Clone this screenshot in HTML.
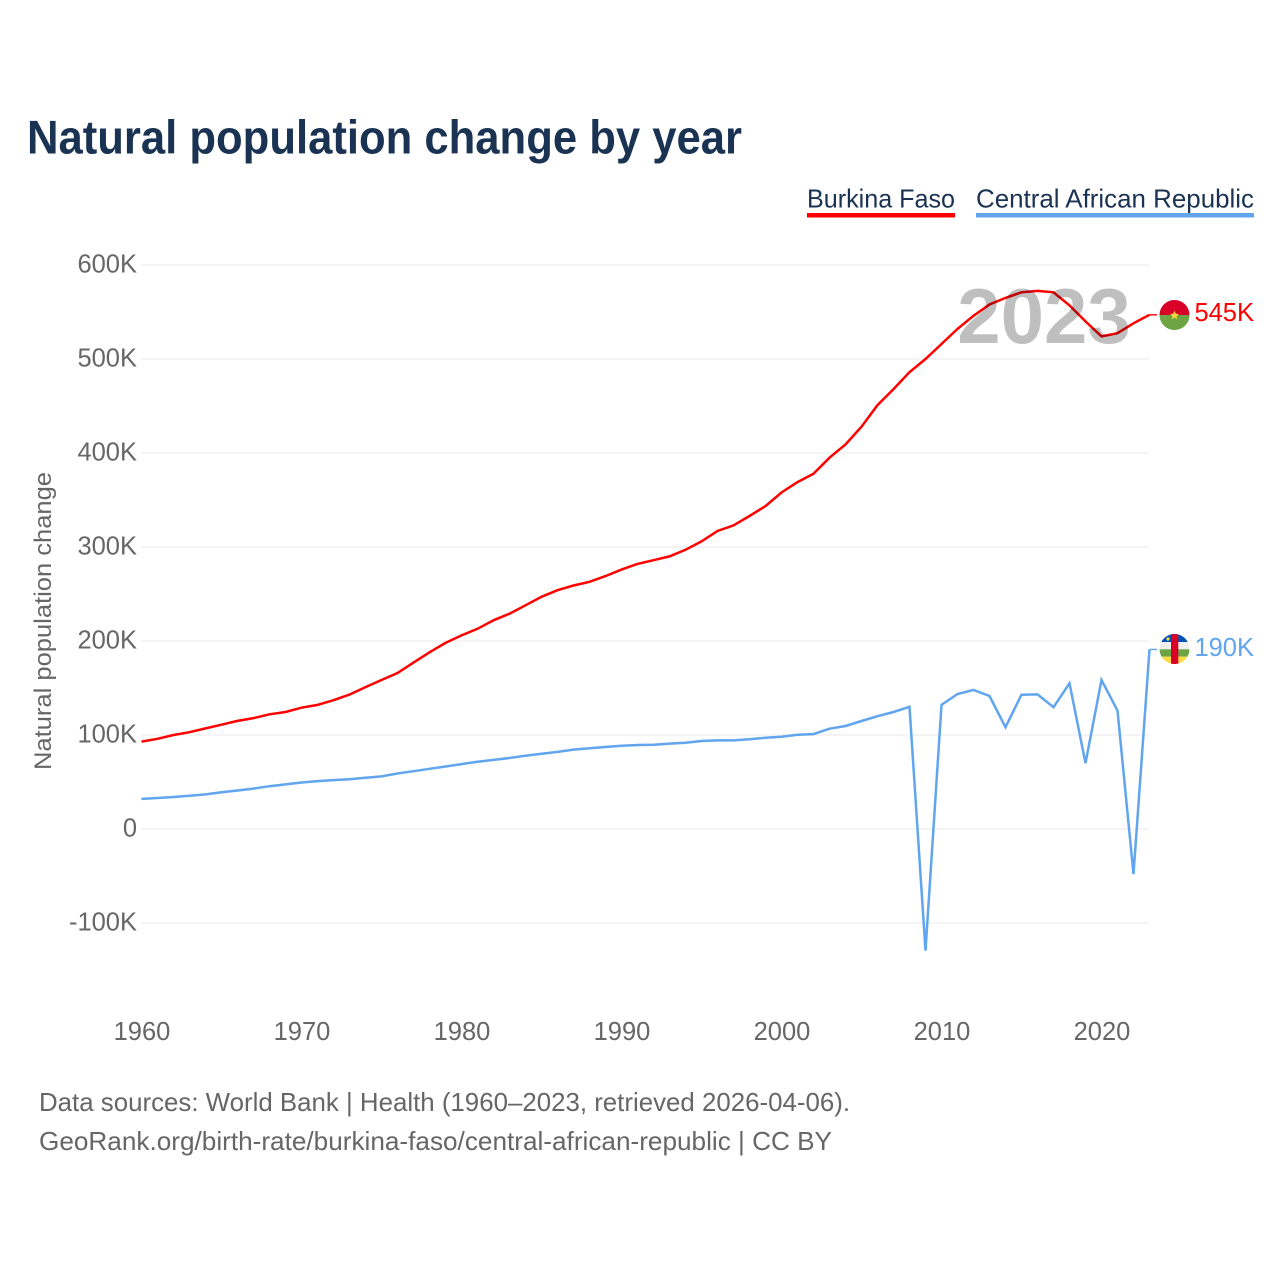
<!DOCTYPE html>
<html lang="en">
<head>
<meta charset="utf-8">
<title>Natural population change by year</title>
<style>
html,body{margin:0;padding:0;background:#fff;width:1280px;height:1280px;overflow:hidden}
svg{display:block}
text{font-family:"Liberation Sans",sans-serif}
</style>
</head>
<body>
<svg id="chart" xmlns="http://www.w3.org/2000/svg" width="1280" height="1280" viewBox="0 0 1280 1280">
  <rect x="0" y="0" width="1280" height="1280" fill="#ffffff"/>
  <text x="27" y="153.5" font-size="47" font-weight="700" fill="#1a3352" textLength="715" lengthAdjust="spacingAndGlyphs">Natural population change by year</text>

  <g>
    <text x="807" y="207.5" font-size="26" fill="#1a3352" textLength="148" lengthAdjust="spacingAndGlyphs">Burkina Faso</text>
    <rect x="807" y="213" width="148" height="4.5" fill="#ff0000"/>
  </g>
  <g>
    <text x="976" y="207.5" font-size="26" fill="#1a3352" textLength="278" lengthAdjust="spacingAndGlyphs">Central African Republic</text>
    <rect x="976" y="213" width="278" height="4.5" fill="#60a5ee"/>
  </g>

  <g id="grid"></g>
  <g id="yticks"></g>
  <g id="xticks"></g>
  <g id="series"></g>

  <text x="1044" y="343" text-anchor="middle" font-size="78" font-weight="700" fill="#000000" fill-opacity="0.25">2023</text>

  <text transform="translate(51,621) rotate(-90)" text-anchor="middle" font-size="24.5" fill="#666666" textLength="298" lengthAdjust="spacingAndGlyphs">Natural population change</text>

  <defs>
    <clipPath id="clip-bf"><circle cx="1174.5" cy="315" r="15"/></clipPath>
    <clipPath id="clip-car"><circle cx="1174.5" cy="649" r="15"/></clipPath>
  </defs>
  <g clip-path="url(#clip-bf)">
    <rect x="1159" y="300" width="31" height="15" fill="#d80027"/>
    <rect x="1159" y="315" width="31" height="15" fill="#6da544"/>
    <polygon points="1174.5,310.5 1175.8,313.8 1179,314 1176.5,316 1177.3,319.2 1174.5,317.4 1171.7,319.2 1172.5,316 1170,314 1173.2,313.8" fill="#ffda44"/>
  </g>
  <g clip-path="url(#clip-car)">
    <rect x="1159" y="634" width="31" height="8" fill="#0052b4"/>
    <rect x="1159" y="642" width="31" height="7.3" fill="#f0f0f0"/>
    <rect x="1159" y="649.3" width="31" height="7.4" fill="#6da544"/>
    <rect x="1159" y="656.7" width="31" height="8.3" fill="#ffda44"/>
    <rect x="1171" y="634" width="7.3" height="31" fill="#d80027"/>
    <circle cx="1168" cy="639" r="1.6" fill="#ffda44"/>
  </g>
  <text id="label-bf" x="1254" y="321" text-anchor="end" font-size="25.5" fill="#ff0000"></text>
  <text id="label-car" x="1254" y="656" text-anchor="end" font-size="25.5" fill="#60a5ee"></text>

  <text x="39" y="1111" font-size="26" fill="#666666" textLength="811" lengthAdjust="spacingAndGlyphs">Data sources: World Bank | Health (1960–2023, retrieved 2026-04-06).</text>
  <text x="39" y="1150" font-size="26" fill="#666666" textLength="793" lengthAdjust="spacingAndGlyphs">GeoRank.org/birth-rate/burkina-faso/central-african-republic | CC BY</text>
</svg>
<script>
const years = [1960,1961,1962,1963,1964,1965,1966,1967,1968,1969,1970,1971,1972,1973,1974,1975,1976,1977,1978,1979,1980,1981,1982,1983,1984,1985,1986,1987,1988,1989,1990,1991,1992,1993,1994,1995,1996,1997,1998,1999,2000,2001,2002,2003,2004,2005,2006,2007,2008,2009,2010,2011,2012,2013,2014,2015,2016,2017,2018,2019,2020,2021,2022,2023];
const burkinaFaso = [93,96,100,103,107,111,115,118,122,124.5,129,132,137,143,151,158.5,166,177,188,198,206,213,222,229,238,247,254,259,263,269,276,282,286,290,297,306,317,323,333,343.5,358,369,378,395,409,428,451,468,486,500,516,532,546,558,565,571,572.5,571,557,540,524,527.5,538,547];
const centralAfricanRepublic = [32,33,34,35.3,36.8,39,41,43,45.5,47.5,49.5,51,52,53,54.5,56,59,61.5,64,66.5,69,71.5,73.5,75.5,78,80,82,84.5,85.8,87.2,88.6,89.4,89.7,90.8,91.8,93.6,94.3,94.3,95.4,97,98.2,100.3,101,106.7,109.6,114.9,120,124.5,130,-129.5,132,143.6,148,141.5,108.3,142.9,143.2,129.6,155,70,158.5,126,-48,191];
const yTickValues = [-100,0,100,200,300,400,500,600];
const yTickLabels = ['-100K','0','100K','200K','300K','400K','500K','600K'];
const xTickYears = [1960,1970,1980,1990,2000,2010,2020];
const endLabels = ['545K','190K'];

const NS = 'http://www.w3.org/2000/svg';
const xScale = function (year) { return 141.5 + (year - 1960) * 16; };
const yScale = function (value) { return 829 - value * 0.94; };

const gridGroup = document.getElementById('grid');
const yTickGroup = document.getElementById('yticks');
const xTickGroup = document.getElementById('xticks');
const seriesGroup = document.getElementById('series');

yTickValues.forEach(function (value, i) {
  const line = document.createElementNS(NS, 'line');
  
  
  line.setAttribute('x1', xScale(1960) - 0.5);
  line.setAttribute('x2', 1149.5);
  line.setAttribute('y1', yScale(value));
  line.setAttribute('y2', yScale(value));
  line.setAttribute('stroke', '#eeeeee');
  line.setAttribute('stroke-width', '1.2');
  gridGroup.appendChild(line);

  const label = document.createElementNS(NS, 'text');
  
  
  label.setAttribute('x', 137);
  label.setAttribute('y', yScale(value) + 7.5);
  label.setAttribute('text-anchor', 'end');
  label.setAttribute('font-size', '25.5');
  label.setAttribute('fill', '#666666');
  label.textContent = yTickLabels[i];
  yTickGroup.appendChild(label);
});

xTickYears.forEach(function (year) {
  const label = document.createElementNS(NS, 'text');
  
  
  label.setAttribute('x', xScale(year) + 0.5);
  label.setAttribute('y', 1040);
  label.setAttribute('text-anchor', 'middle');
  label.setAttribute('font-size', '25.5');
  label.setAttribute('fill', '#666666');
  label.textContent = year;
  xTickGroup.appendChild(label);
});

function buildPoints(values) {
  return values.map(function (value, i) {
    return xScale(years[i]).toFixed(1) + ',' + yScale(value).toFixed(1);
  }).join(' ');
}

function connectorY(values) {
  return yScale(values[values.length - 1]);
}

const burkinaLine = document.createElementNS(NS, 'polyline');


burkinaLine.setAttribute('points', buildPoints(burkinaFaso));
burkinaLine.setAttribute('fill', 'none');
burkinaLine.setAttribute('stroke', '#ff0000');
burkinaLine.setAttribute('stroke-width', '2.5');
seriesGroup.appendChild(burkinaLine);

const burkinaConnector = document.createElementNS(NS, 'line');


burkinaConnector.setAttribute('x1', xScale(2023));
burkinaConnector.setAttribute('x2', 1157);
burkinaConnector.setAttribute('y1', connectorY(burkinaFaso));
burkinaConnector.setAttribute('y2', connectorY(burkinaFaso));
burkinaConnector.setAttribute('stroke', '#ff0000');
burkinaConnector.setAttribute('stroke-width', '1.4');
seriesGroup.appendChild(burkinaConnector);

const carLine = document.createElementNS(NS, 'polyline');


carLine.setAttribute('points', buildPoints(centralAfricanRepublic));
carLine.setAttribute('fill', 'none');
carLine.setAttribute('stroke', '#60a5ee');
carLine.setAttribute('stroke-width', '2.5');
seriesGroup.appendChild(carLine);

const carConnector = document.createElementNS(NS, 'line');


carConnector.setAttribute('x1', xScale(2023));
carConnector.setAttribute('x2', 1157);
carConnector.setAttribute('y1', connectorY(centralAfricanRepublic));
carConnector.setAttribute('y2', connectorY(centralAfricanRepublic));
carConnector.setAttribute('stroke', '#60a5ee');
carConnector.setAttribute('stroke-width', '1.4');
seriesGroup.appendChild(carConnector);

document.getElementById('label-bf').textContent = endLabels[0];
document.getElementById('label-car').textContent = endLabels[1];
</script>
</body>
</html>
